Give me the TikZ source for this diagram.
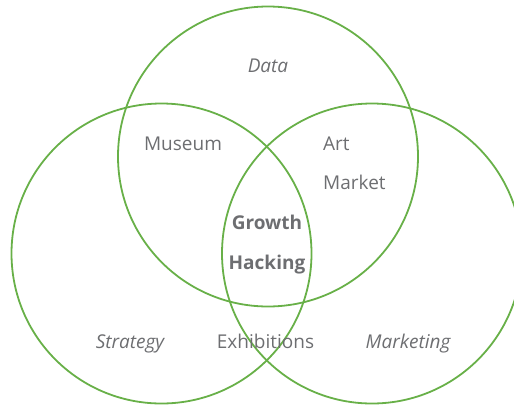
\documentclass[tikz,border=0pt]{standalone}
\usepackage{fontspec}
\setmainfont{Open Sans}
\definecolor{vgreen}{RGB}{104,176,72}
\definecolor{vgray}{RGB}{109,110,113}
\begin{document}
\begin{tikzpicture}[x=1pt,y=-1pt,
  ring/.style={draw=vgreen,line width=1.8pt},
  lbl/.style={text=vgray,font=\fontsize{19}{21}\selectfont,inner sep=0pt,anchor=base},
  ital/.style={lbl,font=\fontsize{19}{21}\selectfont\itshape},
  bold/.style={lbl,font=\fontsize{19}{21}\selectfont\bfseries}]
\useasboundingbox (0,0) rectangle (514,405);
\clip (0,0) rectangle (514,405);
\draw[ring] (268,156.5) circle[radius=150];
\draw[ring] (161.5,253.5) circle[radius=150];
\draw[ring] (372,253.5) circle[radius=150];
\node[ital] (data) at (268,72.7) {Data};
\node[lbl] (museum) at (183,150.7) {Museum};
\node[lbl,anchor=base west] (art) at (323,150.7) {Art};
\node[lbl,anchor=base west] (market) at (323,189.3) {Market};
\node[bold] (growth) at (267,229.3) {Growth};
\node[bold] (hacking) at (267,269.3) {Hacking};
\node[ital] (strategy) at (130,348.3) {Strategy};
\node[lbl] (exhib) at (265.5,348.3) {Exhibitions};
\node[ital] (marketing) at (408,348.3) {Marketing};
\end{tikzpicture}
\end{document}
